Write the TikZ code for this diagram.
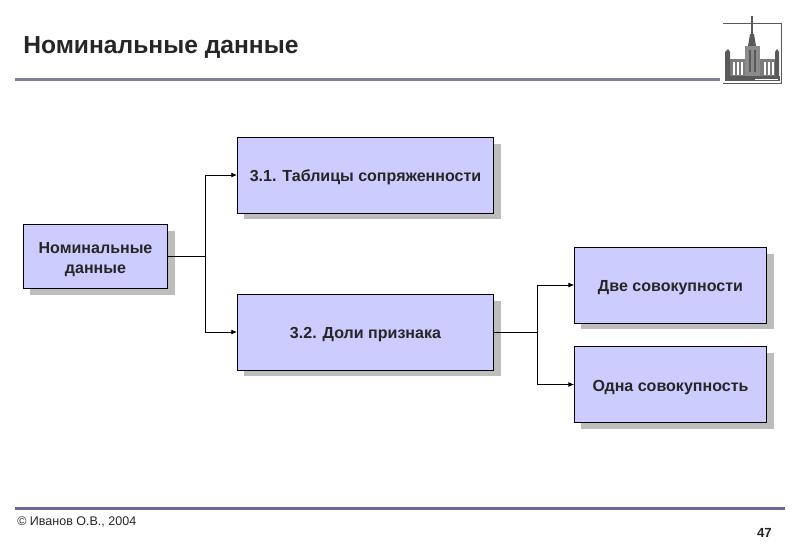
\documentclass[tikz,border=0pt]{standalone}
\usepackage{fontspec}
\setmainfont{Liberation Sans}
\usepackage{xcolor}
\usetikzlibrary{arrows.meta,positioning,calc}
\definecolor{boxfill}{HTML}{CCCCFF}
\definecolor{shadowgray}{HTML}{BDBDBD}
\definecolor{toprule}{HTML}{7C8294}
\definecolor{botrule}{HTML}{6C6A92}
\definecolor{house}{HTML}{5A5A5A}

\tikzset{
	infobox/.style={draw=black, fill=boxfill, line width=0.5pt, align=center, font=\bfseries\fontsize{11.4}{14.6}\selectfont, text=black!85, inner sep=0pt, execute at begin node={\rule{0pt}{11.6pt}}},
	boxshadow/.style={fill=shadowgray, draw=none},
	conn/.style={draw=black, line width=0.5pt, -{Latex[length=4pt,width=3.5pt]}},
}

\begin{document}
\begin{tikzpicture}[x=0.025cm,y=-0.025cm]
		\useasboundingbox (0,0) rectangle (800,553);

		\node[anchor=west, font=\bfseries\fontsize{17.5}{20}\selectfont, text=black!85, inner sep=0pt] (title) at (23,47.5) {Номинальные данные};
		\fill[toprule] (15,77.5) rectangle (720,80.5);

		\fill[boxshadow] (30,231) rectangle (175,295);
		\fill[boxshadow] (244,144) rectangle (501,219);
		\fill[boxshadow] (244,301) rectangle (501,376);
		\fill[boxshadow] (581,254) rectangle (774,329);
		\fill[boxshadow] (581,353) rectangle (774,429);

		\node[infobox, minimum width=102.6pt, minimum height=46pt] (nomdata) at (95.5,256.5) {\rule{0pt}{12.4pt}Номинальные\\данные};
		\node[infobox, minimum width=182.4pt, minimum height=54pt] (tables) at (365.5,175) {3.1. Таблицы сопряженности};
		\node[infobox, minimum width=182.4pt, minimum height=54pt] (shares) at (365.5,332) {3.2. Доли признака};
		\node[infobox, minimum width=136.6pt, minimum height=54pt] (twosets) at (670.5,285) {Две совокупности};
		\node[infobox, minimum width=136.6pt, minimum height=54pt] (oneset) at (670.5,384.5) {Одна совокупность};

		\coordinate (forkA) at (205,256.5);
		\coordinate (forkB) at (537,332);
		\draw[line width=0.5pt] (nomdata.east) -- (forkA);
		\draw[conn] (forkA) |- (tables.west);
		\draw[conn] (forkA) |- (shares.west);
		\draw[line width=0.5pt] (shares.east) -- (forkB);
		\draw[conn] (forkB) |- (twosets.west);
		\draw[conn] (forkB) |- (oneset.west);

		\fill[botrule] (15,506.5) rectangle (785,509.5);
		\node[anchor=west, font=\fontsize{8.9}{10}\selectfont, text=black!85, inner sep=0pt] (copyright) at (17,522) {© Иванов О.В., 2004};
		\node[anchor=east, font=\bfseries\fontsize{9.4}{11}\selectfont, text=black!85, inner sep=0pt] (pagenum) at (772,533) {47};

		\draw[house, line width=0.5pt] (723,23) -- (781,23) -- (781,83) -- (723,83);
		\draw[house, line width=1pt] (752,16) -- (752,40);
		\fill[house] (750,34) -- (754,34) -- (756,46) -- (748,46) -- cycle;
		\fill[house!70] (745,46) rectangle (760,76);
		\fill[house] (749,50) rectangle (751,72);
		\fill[house] (754,50) rectangle (756,72);
		\fill[house!80] (730,59) rectangle (745,78);
		\fill[house!80] (760,59) rectangle (778,78);
		\fill[house] (725,52) -- (728,49) -- (730,52) -- (730,78) -- (725,78) -- cycle;
		\fill[house] (775,52) -- (777,49) -- (779,52) -- (779,78) -- (775,78) -- cycle;
		\foreach \xpos in {733,737,741,764,768,772} {
			\fill[white] (\xpos,62) rectangle ++(1.5,13);
		}
		\fill[house] (725,76) rectangle (780,81);
		\draw[white, line width=0.5pt] (755,79) -- (778,79);
	\end{tikzpicture}
\end{document}
